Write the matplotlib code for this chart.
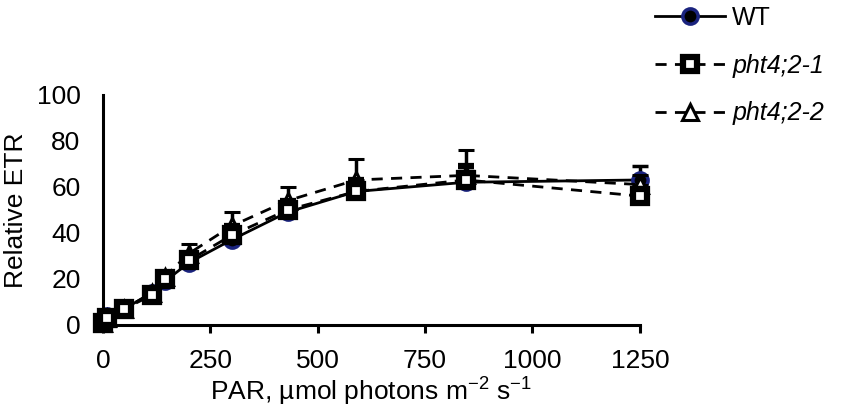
import matplotlib
matplotlib.use("Agg")
from matplotlib import pyplot as plt
from matplotlib.lines import Line2D

plt.rcParams['font.family'] = ['Liberation Sans', 'DejaVu Sans']
plt.rcParams['mathtext.fontset'] = 'custom'
plt.rcParams['mathtext.rm'] = 'Liberation Sans'

# PAR levels and relative ETR for each line
par = [0, 10, 50, 115, 145, 200, 300, 430, 590, 845, 1250]
wt = [1, 4, 7, 14, 19, 27, 37, 49, 58, 62, 63]
wt_err = [1, 1, 1, 2, 2, 3, 3, 3, 4, 5, 6]
pht1 = [1, 3, 7, 13, 20, 28, 39, 50, 58, 63, 56]
pht1_err = [1, 1, 1, 2, 2, 3, 4, 4, 5, 6, 3]
pht2 = [1, 3, 7, 14, 21, 31, 43, 54, 63, 65, 61]
pht2_err = [1, 1, 1, 2, 2, 4, 6, 6, 9, 11, 4]

labels = ["WT", "pht4;2-1", "pht4;2-2"]

fig = plt.figure(figsize=(8.43, 4.16), dpi=100)
ax = fig.add_axes([0.122, 0.219, 0.637, 0.553])

zeros = [0] * len(par)
lw = 2.0
dash = (0, (4, 3))
styles = [
    dict(ls='-', marker='o', mfc='black', mec='#1a237e', mew=2.5, ms=11),
    dict(ls=dash, marker='s', mfc='white', mec='black', mew=4.5, ms=10),
    dict(ls=dash, marker='^', mfc='white', mec='black', mew=2.2, ms=11),
]
series = [(wt, wt_err, 2), (pht1, pht1_err, 4), (pht2, pht2_err, 3)]

for (vals, err, z), st in zip(series, styles):
    cont = ax.errorbar(par, vals, yerr=[zeros, err], color='black', lw=lw,
                       ecolor='black', elinewidth=2.5, capsize=6, capthick=4,
                       zorder=z, **st)
    for art in [cont[0], *cont[1], *cont[2]]:
        art.set_clip_on(False)

ax.set_xlim(0, 1250)
ax.set_ylim(0, 100)
ax.set_xticks([0, 250, 500, 750, 1000, 1250])
ax.set_yticks([0, 20, 40, 60, 80, 100])
ax.spines['top'].set_visible(False)
ax.spines['right'].set_visible(False)
ax.spines['left'].set_linewidth(2.2)
ax.spines['bottom'].set_linewidth(2.2)
ax.tick_params(axis='x', direction='out', length=6, width=2.2, labelsize=19, pad=11)
ax.tick_params(axis='y', length=0, labelsize=19, pad=16)
ax.set_ylabel("Relative ETR", fontsize=19, labelpad=6)
ax.set_xlabel("PAR, \u00b5mol photons m$^{-2}$ s$^{-1}$", fontsize=19, labelpad=1)

handles = [Line2D([], [], color='black', lw=lw, **st) for st in styles]
leg = fig.legend(handles, labels, loc='upper left', bbox_to_anchor=(0.75, 1.04),
                 frameon=False, fontsize=18, handlelength=2.8, labelspacing=0.95,
                 handletextpad=0.3)
for t in leg.get_texts()[1:]:
    t.set_style('italic')

fig.savefig("out.png", dpi=100)
